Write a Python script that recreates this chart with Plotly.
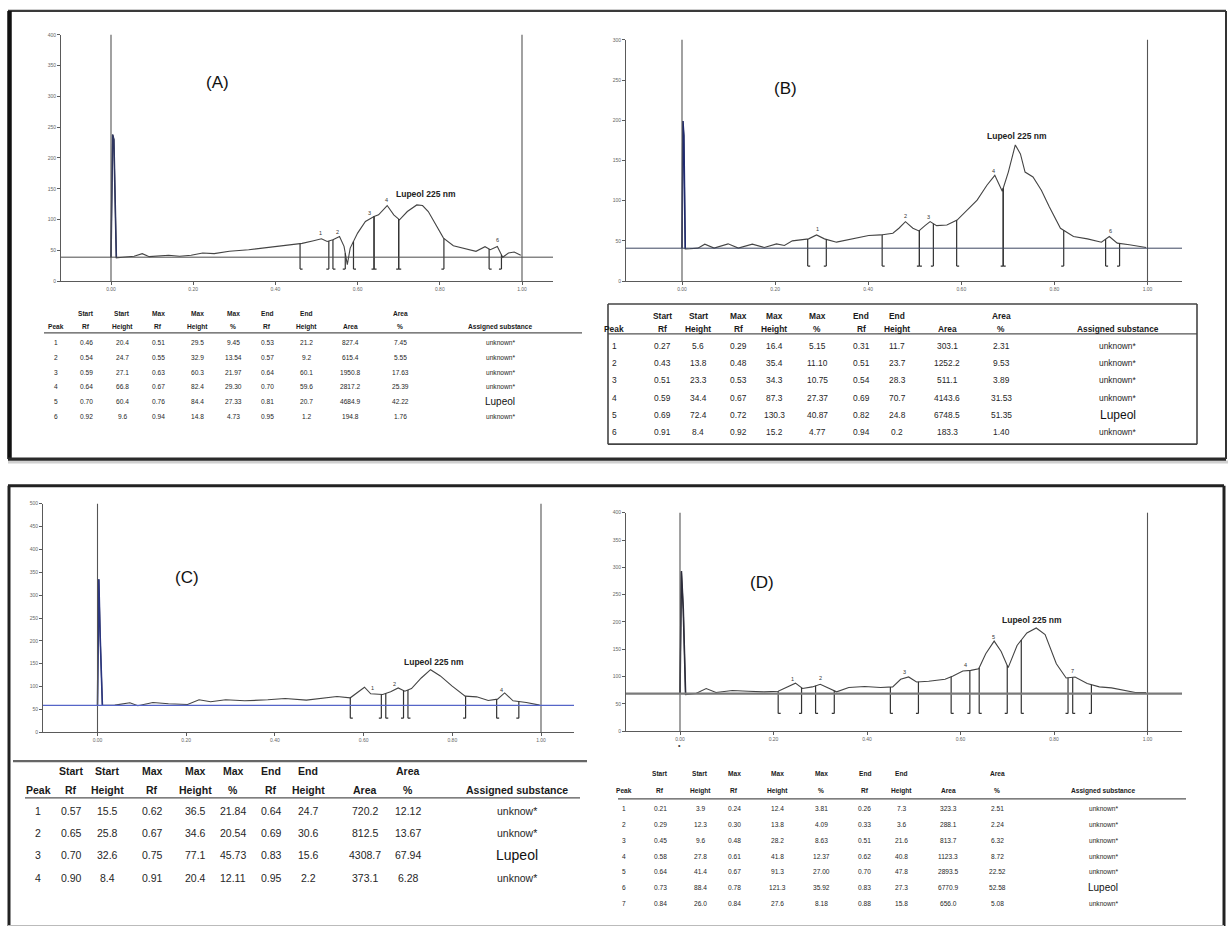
import numpy as np
import plotly.graph_objects as go

W, H = 1229, 930
FONT = "Liberation Sans, Arial, sans-serif"
NARROW = "Liberation Sans Narrow, Arial Narrow, Liberation Sans, Arial, sans-serif"

# ---------------------------------------------------------------- data
RF_TICKS = [0.0, 0.2, 0.4, 0.6, 0.8, 1.0]
RF_TICKTEXT = ["0.00", "0.20", "0.40", "0.60", "0.80", "1.00"]

A_YTICKS = [0, 50, 100, 150, 200, 250, 300, 350, 400]
B_YTICKS = [0, 50, 100, 150, 200, 250, 300]
C_YTICKS = [0, 50, 100, 150, 200, 250, 300, 350, 400, 450, 500]
D_YTICKS = [0, 50, 100, 150, 200, 250, 300, 350, 400]

A_BASE, B_BASE, C_BASE, D_BASE = 39, 41, 59, 69

A_RF = [0.000, 0.004, 0.007, 0.013, 0.028, 0.056, 0.076, 0.093, 0.140, 0.167,
        0.195, 0.223, 0.251, 0.288, 0.335, 0.381, 0.428, 0.465, 0.493, 0.512,
        0.526, 0.540, 0.556, 0.567, 0.575, 0.582, 0.600, 0.619, 0.640, 0.651,
        0.672, 0.688, 0.702, 0.721, 0.744, 0.758, 0.772, 0.791, 0.809, 0.833,
        0.860, 0.888, 0.910, 0.923, 0.940, 0.953, 0.967, 0.981, 0.997]
A_AU = [39, 238, 230, 38, 38.8, 40.4, 44.7, 39.8, 42.0, 40.4,
        42.0, 45.8, 44.7, 48.5, 51.1, 54.9, 57.6, 61.4, 65.7, 68.9,
        64.6, 67.3, 72.7, 56.5, 26.9, 53.8, 78.1, 96.9, 105.0, 107.7,
        122.8, 107.7, 99.6, 113.1, 123.8, 122.8, 113.1, 91.5, 70.0, 57.6,
        52.8, 48.5, 56.0, 51.1, 56.5, 38.8, 45.8, 47.4, 42.0]

B_RF = [0.000, 0.002, 0.004, 0.007, 0.017, 0.034, 0.049, 0.069, 0.099, 0.121,
        0.151, 0.177, 0.203, 0.220, 0.237, 0.259, 0.272, 0.289, 0.306, 0.332,
        0.366, 0.401, 0.427, 0.453, 0.466, 0.480, 0.496, 0.509, 0.522, 0.533,
        0.547, 0.569, 0.591, 0.608, 0.634, 0.655, 0.672, 0.688, 0.701, 0.716,
        0.727, 0.737, 0.754, 0.772, 0.789, 0.813, 0.841, 0.871, 0.901, 0.918,
        0.935, 0.961, 0.997]
B_AU = [41, 199, 181, 40, 40.3, 41.1, 46.0, 41.1, 46.4, 41.1,
        46.0, 41.9, 46.4, 44.4, 50.1, 51.4, 52.6, 57.5, 52.6, 48.5,
        52.6, 56.7, 57.5, 59.6, 65.8, 74.0, 65.8, 62.5, 69.0, 74.0,
        69.0, 69.9, 76.0, 85.5, 100.7, 119.2, 131.5, 111.8, 135.6, 169.3,
        158.2, 135.6, 129.5, 113.0, 92.5, 65.8, 55.5, 52.6, 48.5, 55.5,
        47.3, 45.2, 41.9]

C_RF = [0.000, 0.003, 0.006, 0.011, 0.039, 0.073, 0.091, 0.125, 0.160, 0.203,
        0.229, 0.255, 0.289, 0.332, 0.384, 0.423, 0.471, 0.514, 0.540, 0.570,
        0.587, 0.602, 0.616, 0.643, 0.661, 0.678, 0.693, 0.708, 0.730, 0.751,
        0.773, 0.799, 0.829, 0.855, 0.881, 0.902, 0.918, 0.937, 0.967, 0.997]
C_AU = [59, 335, 211, 59, 59.4, 64.5, 58.0, 65.2, 62.3, 60.9,
        71.0, 66.7, 71.0, 68.8, 71.0, 73.9, 70.3, 75.4, 78.3, 75.4,
        87.0, 98.6, 84.1, 82.6, 88.4, 97.1, 89.9, 95.7, 118.8, 136.9,
        123.2, 101.4, 79.0, 77.5, 69.6, 72.5, 86.0, 68.8, 65.2, 59.4]

D_RF = [0.000, 0.003, 0.007, 0.012, 0.034, 0.056, 0.077, 0.112, 0.146, 0.180,
        0.210, 0.232, 0.247, 0.262, 0.283, 0.300, 0.318, 0.335, 0.361, 0.395,
        0.429, 0.455, 0.472, 0.489, 0.506, 0.532, 0.567, 0.584, 0.605, 0.622,
        0.639, 0.654, 0.672, 0.687, 0.702, 0.721, 0.742, 0.762, 0.781, 0.805,
        0.826, 0.845, 0.871, 0.897, 0.923, 0.948, 0.974, 0.997]
D_AU = [69, 293, 224, 67, 69.1, 78.2, 70.9, 74.5, 73.3, 72.1,
        73.3, 82.4, 88.0, 78.2, 81.2, 86.0, 79.4, 72.1, 80.0, 81.8,
        80.0, 81.2, 95.2, 99.4, 90.3, 91.5, 95.2, 101.2, 110.3, 111.5,
        114.5, 141.8, 165.0, 146.1, 116.4, 157.0, 180.0, 189.0, 177.0, 123.6,
        97.6, 99.4, 87.3, 81.2, 79.4, 75.2, 70.9, 70.9]

HEAD_TOP = ["", "Start", "Start", "Max", "Max", "Max", "End", "End", "", "Area", ""]
HEAD_BOT = ["Peak", "Rf", "Height", "Rf", "Height", "%", "Rf", "Height", "Area", "%",
            "Assigned substance"]

A_ROWS = [
    ["1", "0.46", "20.4", "0.51", "29.5", "9.45", "0.53", "21.2", "827.4", "7.45", "unknown*"],
    ["2", "0.54", "24.7", "0.55", "32.9", "13.54", "0.57", "9.2", "615.4", "5.55", "unknown*"],
    ["3", "0.59", "27.1", "0.63", "60.3", "21.97", "0.64", "60.1", "1950.8", "17.63", "unknown*"],
    ["4", "0.64", "66.8", "0.67", "82.4", "29.30", "0.70", "59.6", "2817.2", "25.39", "unknown*"],
    ["5", "0.70", "60.4", "0.76", "84.4", "27.33", "0.81", "20.7", "4684.9", "42.22", "Lupeol"],
    ["6", "0.92", "9.6", "0.94", "14.8", "4.73", "0.95", "1.2", "194.8", "1.76", "unknown*"],
]
B_ROWS = [
    ["1", "0.27", "5.6", "0.29", "16.4", "5.15", "0.31", "11.7", "303.1", "2.31", "unknown*"],
    ["2", "0.43", "13.8", "0.48", "35.4", "11.10", "0.51", "23.7", "1252.2", "9.53", "unknown*"],
    ["3", "0.51", "23.3", "0.53", "34.3", "10.75", "0.54", "28.3", "511.1", "3.89", "unknown*"],
    ["4", "0.59", "34.4", "0.67", "87.3", "27.37", "0.69", "70.7", "4143.6", "31.53", "unknown*"],
    ["5", "0.69", "72.4", "0.72", "130.3", "40.87", "0.82", "24.8", "6748.5", "51.35", "Lupeol"],
    ["6", "0.91", "8.4", "0.92", "15.2", "4.77", "0.94", "0.2", "183.3", "1.40", "unknown*"],
]
C_ROWS = [
    ["1", "0.57", "15.5", "0.62", "36.5", "21.84", "0.64", "24.7", "720.2", "12.12", "unknow*"],
    ["2", "0.65", "25.8", "0.67", "34.6", "20.54", "0.69", "30.6", "812.5", "13.67", "unknow*"],
    ["3", "0.70", "32.6", "0.75", "77.1", "45.73", "0.83", "15.6", "4308.7", "67.94", "Lupeol"],
    ["4", "0.90", "8.4", "0.91", "20.4", "12.11", "0.95", "2.2", "373.1", "6.28", "unknow*"],
]
D_ROWS = [
    ["1", "0.21", "3.9", "0.24", "12.4", "3.81", "0.26", "7.3", "323.3", "2.51", "unknown*"],
    ["2", "0.29", "12.3", "0.30", "13.8", "4.09", "0.33", "3.6", "288.1", "2.24", "unknown*"],
    ["3", "0.45", "9.6", "0.48", "28.2", "8.63", "0.51", "21.6", "813.7", "6.32", "unknown*"],
    ["4", "0.58", "27.8", "0.61", "41.8", "12.37", "0.62", "40.8", "1123.3", "8.72", "unknown*"],
    ["5", "0.64", "41.4", "0.67", "91.3", "27.00", "0.70", "47.8", "2893.5", "22.52", "unknown*"],
    ["6", "0.73", "88.4", "0.78", "121.3", "35.92", "0.83", "27.3", "6770.9", "52.58", "Lupeol"],
    ["7", "0.84", "26.0", "0.84", "27.6", "8.18", "0.88", "15.8", "656.0", "5.08", "unknown*"],
]

PANEL_LETTERS = ["(A)", "(B)", "(C)", "(D)"]
LUPEOL_LABEL = "Lupeol 225 nm"

# ---------------------------------------------------------------- styles / geometry (pixels)
PANELS = [
    dict(rf=A_RF, au=A_AU, base=A_BASE, rows=A_ROWS, yt=A_YTICKS,
         box=(61, 553, 32, 280), rf0=111, rf1=522, drop=12, basecol="#4a4a4a", basew=1.0,
         spikecol="#2e3560", letter=(217, 80), lup=(426, 192),
         cols=[56, 86, 122, 158, 197, 233, 267, 306, 350, 400, 500],
         head=(313, 326), uline=(44, 582, 332), row0=342, dy=14.8, fs=6.6, lfs=10),
    dict(rf=B_RF, au=B_AU, base=B_BASE, rows=B_ROWS, yt=B_YTICKS,
         box=(626, 1182, 37, 280), rf0=682, rf1=1147.5, drop=18, basecol="#3c4660", basew=1.0,
         spikecol="#1f2a70", letter=(785, 86), lup=(1017, 134),
         cols=[614, 662, 698, 738, 774, 817, 861, 897, 947, 1001, 1118],
         head=(315, 328), uline=(608, 1197, 333), row0=345, dy=17.4, fs=8.4, lfs=12),
    dict(rf=C_RF, au=C_AU, base=C_BASE, rows=C_ROWS, yt=C_YTICKS,
         box=(43, 574, 504, 734), rf0=97.5, rf1=541, drop=13, basecol="#5565c8", basew=1.2,
         spikecol="#2a3580", letter=(187, 578), lup=(434, 663),
         cols=[38, 71, 107, 152, 195, 233, 271, 308, 365, 408, 517],
         head=(773, 792), uline=(25, 580, 800), row0=813, dy=22.4, fs=10.5, lfs=14),
    dict(rf=D_RF, au=D_AU, base=D_BASE, rows=D_ROWS, yt=D_YTICKS,
         box=(626, 1182, 513, 733), rf0=680, rf1=1147.5, drop=20, basecol="#7a7a7a", basew=2.2,
         spikecol="#2b2b3a", letter=(762, 583), lup=(1032, 621),
         cols=[624, 660, 700, 734, 777, 821, 865, 901, 948, 997, 1103],
         head=(776, 793), uline=(618, 1186, 801), row0=811, dy=15.9, fs=6.6, lfs=10),
]


def px(x):
    return x / W


def py(y):
    return 1 - y / H


fig = go.Figure()
shapes, annos = [], []
layout = {}

for i, P in enumerate(PANELS, start=1):
    xa = "x" if i == 1 else f"x{i}"
    ya = "y" if i == 1 else f"y{i}"
    xk = "xaxis" if i == 1 else f"xaxis{i}"
    yk = "yaxis" if i == 1 else f"yaxis{i}"
    x0, x1, yt, yb = P["box"]
    ppu = P["rf1"] - P["rf0"]
    lo = (x0 - P["rf0"]) / ppu
    hi = (x1 - P["rf0"]) / ppu
    ymax = P["yt"][-1]
    ypu = (yb - yt) / ymax

    layout[xk] = dict(domain=[px(x0), px(x1)], range=[lo, hi], anchor=ya,
                      tickvals=RF_TICKS, ticktext=RF_TICKTEXT,
                      showline=True, linecolor="#5a5a5a", linewidth=1,
                      ticks="outside", ticklen=3, tickcolor="#5a5a5a",
                      tickfont=dict(size=5, color="#666", family=FONT),
                      showgrid=False, zeroline=False, fixedrange=True)
    layout[yk] = dict(domain=[py(yb), py(yt)], range=[0, ymax], anchor=xa,
                      tickvals=P["yt"], ticktext=[str(v) for v in P["yt"]],
                      showline=True, linecolor="#5a5a5a", linewidth=1,
                      ticks="outside", ticklen=3, tickcolor="#5a5a5a",
                      tickfont=dict(size=5, color="#666", family=FONT),
                      showgrid=False, zeroline=False, fixedrange=True)

    rf = np.array(P["rf"], float)
    au = np.array(P["au"], float)
    assert len(rf) == len(au)

    # Rf 0 / Rf 1 vertical lines
    for v in (0.0, 1.0):
        shapes.append(dict(type="line", xref=xa, yref=f"{ya} domain", x0=v, x1=v, y0=0, y1=1,
                           line=dict(color="#555", width=1.1)))
    # baseline
    shapes.append(dict(type="line", xref=f"{xa} domain", yref=ya, x0=0, x1=1,
                       y0=P["base"], y1=P["base"], line=dict(color=P["basecol"], width=P["basew"])))

    # densitogram curve
    fig.add_trace(go.Scatter(x=rf, y=au, mode="lines", xaxis=xa, yaxis=ya,
                             line=dict(color="#444", width=1.1), hoverinfo="skip"))
    fig.add_trace(go.Scatter(x=rf[:4], y=au[:4], mode="lines", xaxis=xa, yaxis=ya,
                             line=dict(color=P["spikecol"], width=1.6), hoverinfo="skip"))

    # peak start / end markers
    bot = P["base"] - P["drop"] / ypu
    foot = 2.5 / ppu
    mx, my = [], []
    for row in P["rows"]:
        s, e = float(row[1]), float(row[6])
        for r, d in ((s, foot), (e, -foot)):
            top = float(np.interp(r, rf, au))
            mx += [r, r, None, r, r + d, None]
            my += [bot, top, None, bot, bot, None]
    fig.add_trace(go.Scatter(x=mx, y=my, mode="lines", xaxis=xa, yaxis=ya,
                             line=dict(color="#333", width=1.2), hoverinfo="skip"))

    # peak numbers (the Lupeol peak carries the Lupeol label instead)
    for row in P["rows"]:
        if row[-1] == "Lupeol":
            continue
        m = float(row[3])
        annos.append(dict(xref=xa, yref=ya, x=m, y=float(np.interp(m, rf, au)),
                          text=row[0], showarrow=False, yanchor="bottom", yshift=1,
                          font=dict(size=5.5, color="#333", family=FONT)))

    # panel letter and Lupeol label
    lx, ly = P["letter"]
    annos.append(dict(xref="paper", yref="paper", x=px(lx), y=py(ly), text=PANEL_LETTERS[i - 1],
                      showarrow=False, xanchor="center", yanchor="middle",
                      font=dict(size=17, color="#111", family=FONT)))
    ux, uy = P["lup"]
    annos.append(dict(xref="paper", yref="paper", x=px(ux), y=py(uy), text=f"<b>{LUPEOL_LABEL}</b>",
                      showarrow=False, xanchor="center", yanchor="middle",
                      font=dict(size=8.5, color="#222", family=FONT)))

    # table
    h1, h2 = P["head"]
    for cx, t, b in zip(P["cols"], HEAD_TOP, HEAD_BOT):
        if t:
            annos.append(dict(xref="paper", yref="paper", x=px(cx), y=py(h1), text=f"<b>{t}</b>",
                              showarrow=False, xanchor="center", yanchor="middle",
                              font=dict(size=P["fs"], color="#1a1a1a", family=NARROW)))
        annos.append(dict(xref="paper", yref="paper", x=px(cx), y=py(h2), text=f"<b>{b}</b>",
                          showarrow=False, xanchor="center", yanchor="middle",
                          font=dict(size=P["fs"], color="#1a1a1a", family=NARROW)))
    ux0, ux1, uyy = P["uline"]
    shapes.append(dict(type="line", xref="paper", yref="paper", x0=px(ux0), x1=px(ux1),
                       y0=py(uyy), y1=py(uyy), line=dict(color="#555", width=1.4)))
    for r, row in enumerate(P["rows"]):
        yy = P["row0"] + r * P["dy"]
        for cx, val in zip(P["cols"], row):
            big = val == "Lupeol"
            annos.append(dict(xref="paper", yref="paper", x=px(cx), y=py(yy),
                              text=val, showarrow=False, xanchor="center", yanchor="middle",
                              font=dict(size=P["lfs"] if big else P["fs"],
                                        color="#111" if big else "#262626",
                                        family=FONT if big else NARROW)))

# small mark below D's Rf 0.00 tick
annos.append(dict(xref="paper", yref="paper", x=px(679), y=py(753), text="•", showarrow=False,
                  font=dict(size=7, color="#333", family=FONT)))


def pline(x0, y0, x1, y1, color, width):
    shapes.append(dict(type="line", xref="paper", yref="paper", x0=px(x0), y0=py(y0),
                       x1=px(x1), y1=py(y1), line=dict(color=color, width=width)))


# outer frames
pline(8, 462, 1228, 462, "#d0d0d0", 3)          # shadow under top frame
pline(8, 8, 1226, 8, "#3a3a3a", 2.2)           # top frame: top
pline(9.5, 8, 9.5, 459, "#111", 4.5)           # top frame: left (thick)
pline(8, 459, 1226, 459, "#2a2a2a", 3.2)       # top frame: bottom
pline(1226, 8, 1226, 459, "#333", 2)           # top frame: right
# B table box
pline(608, 303, 1197, 303, "#444", 1.6)
pline(608, 444, 1197, 444, "#444", 1.6)
pline(608, 303, 608, 444, "#444", 1.6)
pline(1197, 303, 1197, 444, "#444", 1.6)
# bottom frame
pline(8, 486, 1224, 486, "#222", 3)
pline(9, 486, 9, 929, "#222", 3)
pline(1224, 486, 1224, 929, "#222", 3)
pline(8, 928.5, 1224, 928.5, "#bbb", 1.2)
# C table separator
pline(13, 763, 587, 763, "#666", 2.4)

fig.update_layout(
    width=W, height=H, margin=dict(l=0, r=0, t=0, b=0),
    paper_bgcolor="white", plot_bgcolor="rgba(0,0,0,0)",
    showlegend=False, shapes=shapes, annotations=annos,
    font=dict(family=FONT), **layout)

fig.write_html("out.html", config={"displayModeBar": False})
